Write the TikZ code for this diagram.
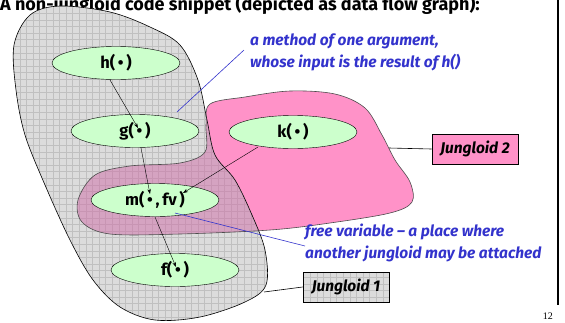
\documentclass[tikz,border=0pt]{standalone}
\usepackage{fontspec}
\setmainfont{Fira Sans}
\newfontfamily\numfont{Liberation Serif}
\usetikzlibrary{shapes.geometric,arrows.meta}
\definecolor{nodegreen}{RGB}{204,255,204}
\definecolor{pinkc}{RGB}{255,146,200}
\definecolor{overc}{RGB}{208,108,168}
\definecolor{bluec}{RGB}{51,51,204}
\definecolor{grayc}{RGB}{220,220,220}
\definecolor{gridc}{RGB}{192,192,192}
\tikzset{
  ell/.style={ellipse, draw, fill=nodegreen, minimum width=128pt, minimum height=33pt, inner sep=0pt, font=\bfseries\fontsize{16.5}{18}\selectfont},
  flow/.style={-{Stealth[length=5pt,width=3.5pt]}, line width=0.4pt},
  callout/.style={draw=bluec, line width=0.6pt},
  bluetext/.style={text=bluec, font=\bfseries\itshape\fontsize{15.5}{22}\selectfont, align=left, inner sep=0pt},
  labelbox/.style={draw, line width=0.8pt, minimum width=86pt, minimum height=30pt, inner sep=0pt, font=\bfseries\itshape\fontsize{15.5}{17}\selectfont},
}
\def\grayshape{plot[smooth cycle,tension=0.55] coordinates {(14,45) (30,15) (60,6) (110,12) (150,27) (180,45) (198,80) (207,120) (215,155) (235,180) (252,215) (265,250) (266,285) (245,302) (200,317) (155,320) (120,307) (93,280) (70,240) (45,185) (25,135) (16,90)}}
\def\pinkshape{plot[smooth cycle,tension=0.55] coordinates {(210,104) (245,97) (290,91) (335,94) (365,108) (382,135) (395,160) (410,182) (412,202) (390,213) (330,223) (270,230) (180,234) (110,234) (82,222) (78,200) (95,175) (130,166) (180,163) (205,152) (206,125)}}
\begin{document}
\begin{tikzpicture}[x=1pt,y=-1pt]
\useasboundingbox (0,0) rectangle (565,322);
\clip (0,0) rectangle (565,322);
% title (cut at top, as in the reference)
\node[anchor=base west, inner sep=0pt, font=\bfseries\fontsize{18}{20}\selectfont] (title) at (0,10) {A non-jungloid code snippet (depicted as data flow graph):};
% blobs
\fill[pinkc] \pinkshape;
\begin{scope}
  \clip \grayshape;
  \fill[grayc] (0,0) rectangle (565,322);
  \draw[gridc, line width=0.35pt, step=6.6pt] (0,0) grid (565,322);
  \fill[overc, fill opacity=0.5] \pinkshape;
\end{scope}
\draw[line width=0.6pt] \grayshape;
\draw[line width=0.6pt, black!70] \pinkshape;
% nodes
\node[ell] (h) at (116,63) {h(\,•\,)};
\node[ell] (g) at (135,131) {g(\,•\,)};
\node[ell] (k) at (293,132) {k(\,•\,)};
\node[ell] (m) at (155,200) {m(\,•\,,\,fv\,)};
\node[ell] (f) at (175,270) {f(\,•\,)};
% flows
\coordinate (gin) at (138,128);
\coordinate (min) at (150,194);
\coordinate (fvin) at (183,193);
\coordinate (fin) at (176,267);
\draw[flow] (110,80) -- (gin);
\draw[flow] (141,148) -- (min);
\draw[flow] (258,147) -- (fvin);
\draw[flow] (155,217) -- (fin);
% callouts
\node[bluetext, anchor=north west] (t1) at (250,34) {a method of one argument,\\whose input is the result of h()};
\coordinate (c1a) at (177,112);
\coordinate (c1b) at (244,50);
\draw[callout] (c1a) -- (c1b);
\node[bluetext, anchor=north west] (t2) at (305,224) {free variable – a place where\\another jungloid may be attached};
\coordinate (c2a) at (175,213);
\coordinate (c2b) at (305,246);
\draw[callout] (c2a) -- (c2b);
% labels
\node[labelbox, fill=pinkc] (j2) at (475,149) {Jungloid 2};
\coordinate (p2) at (389,148);
\draw[line width=0.6pt] (p2) -- (j2.west);
\begin{scope}
  \clip (303,272) rectangle (389,302);
  \fill[grayc] (303,272) rectangle (389,302);
  \draw[gridc, line width=0.35pt, step=6.6pt] (0,0) grid (565,322);
\end{scope}
\node[labelbox] (j1) at (346,287) {Jungloid 1};
\coordinate (p1) at (264,292);
\draw[line width=0.6pt] (p1) -- (j1.west);
% frame line and page number
\coordinate (r1) at (558,0);
\coordinate (r2) at (558,305);
\draw[line width=2pt] (r1) -- (r2);
\node[anchor=base east, inner sep=0pt, font=\numfont\fontsize{10}{11}\selectfont] (pg) at (553,319) {12};
\end{tikzpicture}
\end{document}
